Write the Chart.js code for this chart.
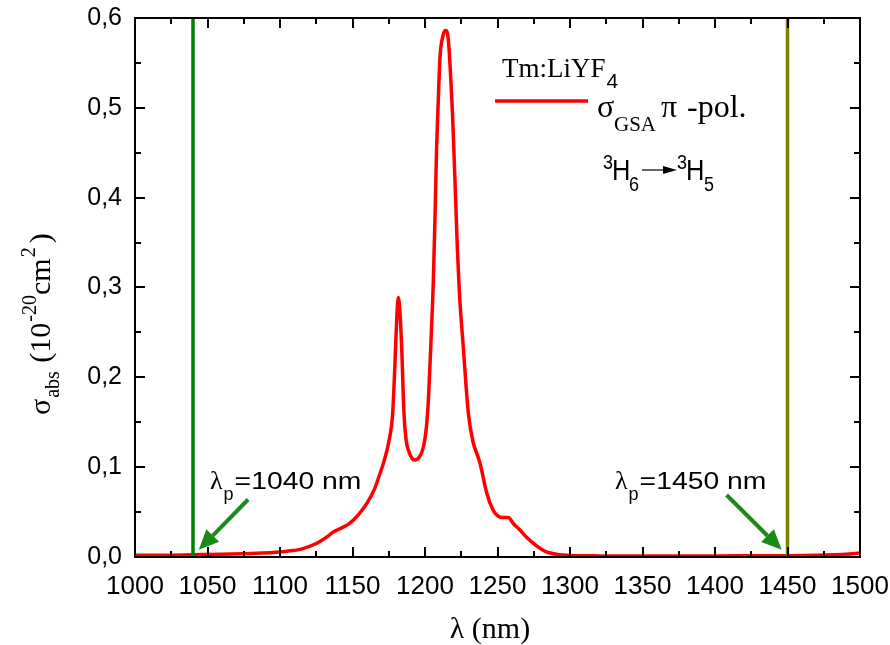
<!DOCTYPE html>
<html>
<head>
<meta charset="utf-8">
<title>Tm:LiYF4 GSA cross-section</title>
<script src="https://cdn.jsdelivr.net/npm/chart.js"></script>
<style>
    html, body { margin: 0; padding: 0; background: #fff; }
    #wrap { width: 890px; height: 645px; }
</style>
</head>
<body>
<div id="wrap"><canvas id="gsaChart"></canvas></div>
<script>
// --- values ---
const wavelength = [1000, 1020, 1040, 1060, 1080, 1095, 1105, 1114, 1125, 1132, 1137, 1142, 1148, 1154,
    1160, 1165, 1169, 1172, 1175, 1177.7, 1179.3, 1180.5, 1181.6, 1182.8, 1183.9, 1185.5, 1187, 1188.5,
    1191, 1193, 1196, 1199, 1201, 1202.5, 1204, 1205.7, 1207, 1208, 1209.2, 1210.3, 1212.5, 1214.3,
    1216, 1217.9, 1219, 1220.7, 1222.3, 1223.7, 1226.4, 1229.9, 1233.3, 1236, 1238, 1242.6, 1247,
    1250, 1253, 1257.5, 1261, 1265.5, 1270, 1275, 1280, 1285, 1293, 1300, 1320, 1350, 1400, 1450,
    1470, 1490, 1500];
const sigmaGSA = [0.002, 0.002, 0.0025, 0.003, 0.004, 0.005, 0.0065, 0.0085, 0.015, 0.022, 0.028, 0.032, 0.0375, 0.047,
    0.060, 0.075, 0.093, 0.108, 0.128, 0.160, 0.216, 0.265, 0.289, 0.270, 0.234, 0.160, 0.130, 0.119,
    0.110, 0.108, 0.111, 0.123, 0.145, 0.180, 0.235, 0.305, 0.385, 0.455, 0.510, 0.555, 0.581, 0.586,
    0.577, 0.529, 0.492, 0.418, 0.344, 0.295, 0.234, 0.160, 0.127, 0.114, 0.104, 0.071, 0.052,
    0.046, 0.044, 0.044, 0.037, 0.030, 0.022, 0.015, 0.009, 0.005, 0.0025, 0.0018, 0.0012, 0.001, 0.0012, 0.0015,
    0.002, 0.003, 0.0045];

const pumpLines = [1040, 1450];
const pumpColors = ['#008000', '#808000'];
const pumpLabels = ['=1040 nm', '=1450 nm'];
// arrow tails and tips, in data units
const arrowFrom = [[1078, 0.064], [1408, 0.069]];
const arrowTo = [[1044, 0.008], [1446, 0.008]];

const xMin = 1000, xMax = 1500, xStep = 50;
const yMin = 0, yMax = 0.6, yStep = 0.1;

const TIMES = "'Liberation Serif', 'Times New Roman', serif";
const ARIAL = "'Liberation Sans', Arial, sans-serif";
const NARROW = "'Liberation Sans Narrow', 'Liberation Sans', Arial, sans-serif";

// draw a piece of text, optionally stretched horizontally; returns the x where it ends
function txt(ctx, s, x, y, font, sx) {
    sx = sx || 1;
    ctx.save();
    ctx.font = font;
    ctx.textAlign = 'left';
    ctx.textBaseline = 'alphabetic';
    ctx.translate(x, y);
    ctx.scale(sx, 1);
    ctx.fillText(s, 0, 0);
    const w = ctx.measureText(s).width * sx;
    ctx.restore();
    return x + w;
}

function arrow(ctx, x1, y1, x2, y2, color) {
    const a = Math.atan2(y2 - y1, x2 - x1);
    const head = 20, half = 9;
    const bx = x2 - head * Math.cos(a), by = y2 - head * Math.sin(a);
    ctx.save();
    ctx.strokeStyle = color;
    ctx.fillStyle = color;
    ctx.lineWidth = 4;
    ctx.beginPath();
    ctx.moveTo(x1, y1);
    ctx.lineTo(bx, by);
    ctx.stroke();
    ctx.beginPath();
    ctx.moveTo(x2, y2);
    ctx.lineTo(bx + half * Math.sin(a), by - half * Math.cos(a));
    ctx.lineTo(bx - half * Math.sin(a), by + half * Math.cos(a));
    ctx.closePath();
    ctx.fill();
    ctx.restore();
}

const decorPlugin = {
    id: 'decor',
    afterDraw(chart) {
        const ctx = chart.ctx;
        const { left, right, top, bottom } = chart.chartArea;
        const xs = chart.scales.x, ys = chart.scales.y;

        // frame + inward ticks on all four sides
        ctx.save();
        ctx.strokeStyle = '#000';
        ctx.lineWidth = 2;
        ctx.strokeRect(left, top, right - left, bottom - top);
        ctx.beginPath();
        for (let v = xMin; v <= xMax; v += xStep / 2) {
            const px = Math.round(xs.getPixelForValue(v));
            const len = (v % xStep === 0) ? 10 : 6;
            ctx.moveTo(px, bottom); ctx.lineTo(px, bottom - len);
            ctx.moveTo(px, top); ctx.lineTo(px, top + len);
        }
        for (let i = 0; i <= 12; i++) {
            const py = Math.round(ys.getPixelForValue(i * yStep / 2));
            const len = (i % 2 === 0) ? 10 : 6;
            ctx.moveTo(left, py); ctx.lineTo(left + len, py);
            ctx.moveTo(right, py); ctx.lineTo(right - len, py);
        }
        ctx.stroke();
        ctx.restore();

        ctx.fillStyle = '#000';

        // x axis title
        ctx.save();
        ctx.font = '30px ' + TIMES;
        ctx.textAlign = 'center';
        ctx.fillText('\u03bb (nm)', 490, 638);
        ctx.restore();

        // y axis title, rotated
        ctx.save();
        ctx.translate(50, 415);
        ctx.rotate(-Math.PI / 2);
        let p = txt(ctx, '\u03c3', 0, 0, '30px ' + TIMES);
        p = txt(ctx, 'abs', p + 1, 9, '20px ' + TIMES);
        p = txt(ctx, ' (10', p + 1, 0, '30px ' + TIMES);
        p = txt(ctx, '-20', p + 1, -14, '20px ' + TIMES);
        p = txt(ctx, 'cm', p, 0, '30px ' + TIMES);
        p = txt(ctx, '2', p + 1, -15, '20px ' + TIMES);
        txt(ctx, ')', p + 4, 0, '30px ' + TIMES);
        ctx.restore();

        // legend block
        let q = txt(ctx, 'Tm:LiYF', 502, 77, '27px ' + TIMES);
        txt(ctx, '4', q + 1, 88, '21px ' + ARIAL);
        ctx.save();
        ctx.strokeStyle = '#ff0000';
        ctx.lineWidth = 3.5;
        ctx.beginPath();
        ctx.moveTo(495, 101); ctx.lineTo(588, 101);
        ctx.stroke();
        ctx.restore();
        txt(ctx, '\u03c3', 597, 117, '32px ' + TIMES);
        txt(ctx, 'GSA', 614, 131, '21px ' + TIMES);
        txt(ctx, '\u03c0', 661, 117, '32px ' + TIMES);
        txt(ctx, '-pol.', 687, 117, '32px ' + TIMES);

        // 3H6 -> 3H5 transition
        txt(ctx, '3', 603, 169, '20px ' + ARIAL, 0.9);
        txt(ctx, 'H', 612, 180, '30px ' + ARIAL, 0.85);
        txt(ctx, '6', 629, 191, '20px ' + ARIAL, 0.9);
        ctx.save();
        ctx.strokeStyle = '#000';
        ctx.lineWidth = 1.2;
        ctx.beginPath();
        ctx.moveTo(642, 170); ctx.lineTo(666, 170);
        ctx.stroke();
        ctx.beginPath();
        ctx.moveTo(677, 170); ctx.lineTo(663, 166); ctx.lineTo(663, 174);
        ctx.closePath();
        ctx.fill();
        ctx.restore();
        txt(ctx, '3', 677, 169, '20px ' + ARIAL, 0.9);
        txt(ctx, 'H', 686, 180, '30px ' + ARIAL, 0.85);
        txt(ctx, '5', 704, 191, '20px ' + ARIAL, 0.9);

        // pump labels and arrows
        const labelX = [210, 615];
        pumpLabels.forEach((lab, i) => {
            let r = txt(ctx, '\u03bb', labelX[i], 489, '26px ' + TIMES);
            r = txt(ctx, 'p', r + 1, 500, '18px ' + ARIAL);
            txt(ctx, lab, r + 1, 489, '24px ' + ARIAL, 1.18);
            arrow(ctx,
                xs.getPixelForValue(arrowFrom[i][0]), ys.getPixelForValue(arrowFrom[i][1]),
                xs.getPixelForValue(arrowTo[i][0]), ys.getPixelForValue(arrowTo[i][1]),
                '#1a8a1a');
        });
    }
};

const spectrum = wavelength.map((w, i) => ({ x: w, y: sigmaGSA[i] }));

const pumpSets = pumpLines.map((w, i) => ({
    label: 'pump ' + w,
    data: [{ x: w, y: yMin }, { x: w, y: yMax }],
    borderColor: pumpColors[i],
    borderWidth: 3.5,
    pointRadius: 0,
    order: 0
}));

const ctx = document.getElementById('gsaChart').getContext('2d');
const gsaChart = new Chart(ctx, {
    type: 'line',
    data: {
        datasets: [
            ...pumpSets,
            {
                label: 'sigma GSA pi-pol.',
                data: spectrum,
                borderColor: '#ff0000',
                borderWidth: 3.5,
                pointRadius: 0,
                cubicInterpolationMode: 'monotone',
                order: 1
            }
        ]
    },
    options: {
        responsive: true,
        maintainAspectRatio: false,
        animation: false,
        layout: { padding: { top: 18, right: 30, left: 0, bottom: 0 } },
        plugins: {
            legend: { display: false },
            tooltip: { enabled: false }
        },
        scales: {
            x: {
                type: 'linear',
                min: xMin,
                max: xMax,
                grid: { display: false, drawTicks: false },
                border: { display: false },
                ticks: {
                    stepSize: xStep,
                    padding: 14,
                    color: '#000',
                    maxRotation: 0,
                    font: { family: NARROW, size: 26 },
                    callback: v => String(v)
                },
                afterFit: s => {
                    s.height = 88;
                    s.paddingLeft = 0;
                    s.paddingRight = 0;
                }
            },
            y: {
                min: yMin,
                max: yMax,
                grid: { display: false, drawTicks: false },
                border: { display: false },
                ticks: {
                    stepSize: yStep,
                    padding: 13,
                    color: '#000',
                    font: { family: ARIAL, size: 25 },
                    callback: v => v.toFixed(1).replace('.', ',')
                },
                afterFit: s => {
                    s.width = 135;
                    s.paddingTop = 0;
                    s.paddingBottom = 0;
                }
            }
        }
    },
    plugins: [decorPlugin]
});
</script>
</body>
</html>
